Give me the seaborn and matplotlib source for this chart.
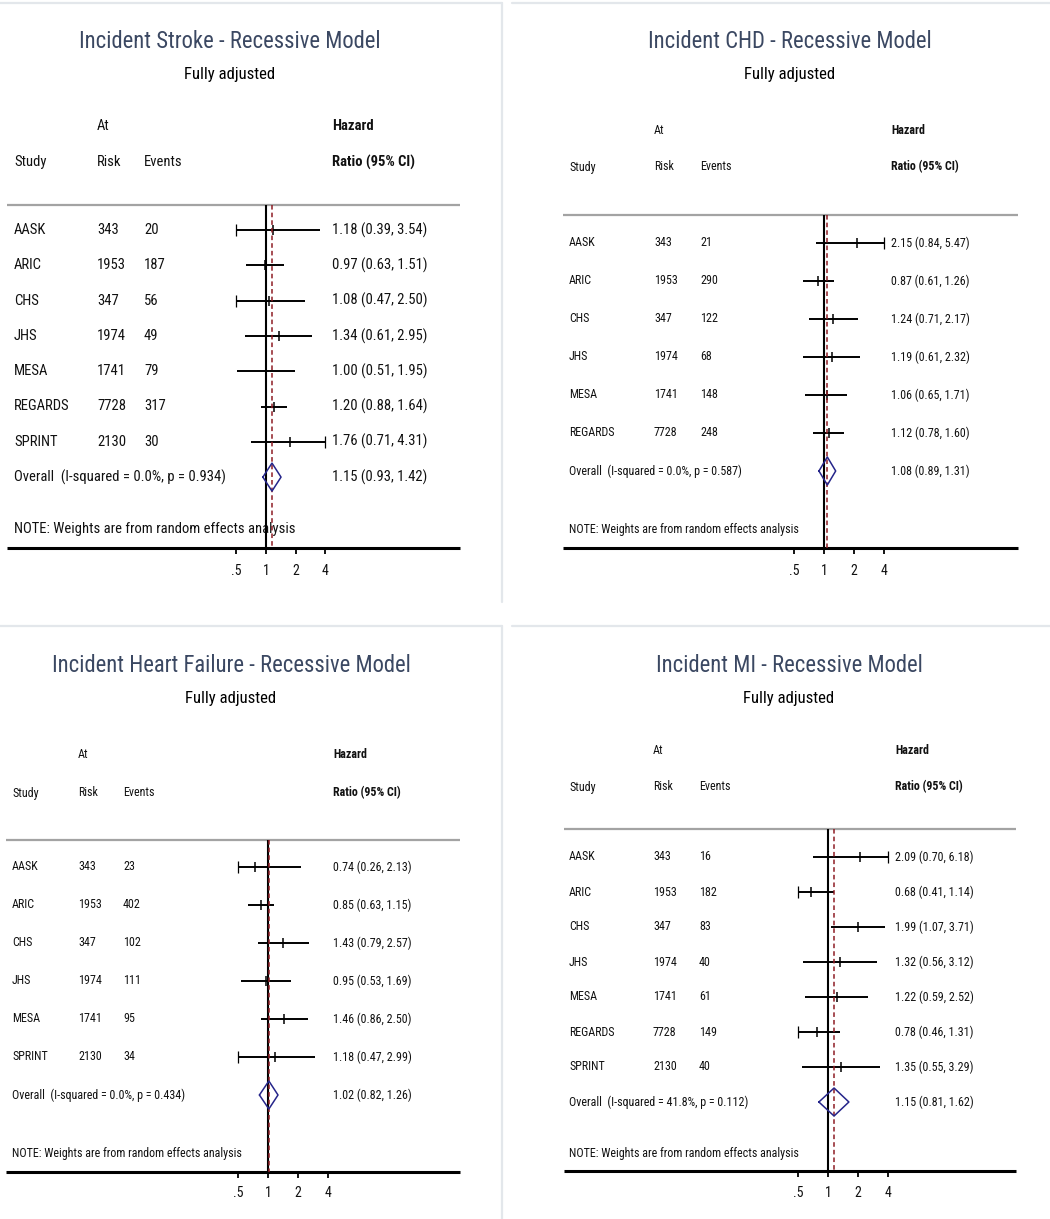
"""Four Stata-style forest plots (recessive model, fully adjusted) redrawn with seaborn/matplotlib."""
import numpy as np
import matplotlib
matplotlib.use("Agg")
import matplotlib.pyplot as plt
import seaborn as sns
from matplotlib import font_manager
from matplotlib.font_manager import FontProperties
from matplotlib.lines import Line2D
from matplotlib.textpath import TextPath

# Step 1: data
stroke_studies = ["AASK", "ARIC", "CHS", "JHS", "MESA", "REGARDS", "SPRINT"]
stroke_risk = [343, 1953, 347, 1974, 1741, 7728, 2130]
stroke_events = [20, 187, 56, 49, 79, 317, 30]
stroke_hr = [1.18, 0.97, 1.08, 1.34, 1.00, 1.20, 1.76]
stroke_lo = [0.39, 0.63, 0.47, 0.61, 0.51, 0.88, 0.71]
stroke_hi = [3.54, 1.51, 2.50, 2.95, 1.95, 1.64, 4.31]
stroke_overall = [1.15, 0.93, 1.42]
stroke_i2, stroke_p = 0.0, 0.934

chd_studies = ["AASK", "ARIC", "CHS", "JHS", "MESA", "REGARDS"]
chd_risk = [343, 1953, 347, 1974, 1741, 7728]
chd_events = [21, 290, 122, 68, 148, 248]
chd_hr = [2.15, 0.87, 1.24, 1.19, 1.06, 1.12]
chd_lo = [0.84, 0.61, 0.71, 0.61, 0.65, 0.78]
chd_hi = [5.47, 1.26, 2.17, 2.32, 1.71, 1.60]
chd_overall = [1.08, 0.89, 1.31]
chd_i2, chd_p = 0.0, 0.587

hf_studies = ["AASK", "ARIC", "CHS", "JHS", "MESA", "SPRINT"]
hf_risk = [343, 1953, 347, 1974, 1741, 2130]
hf_events = [23, 402, 102, 111, 95, 34]
hf_hr = [0.74, 0.85, 1.43, 0.95, 1.46, 1.18]
hf_lo = [0.26, 0.63, 0.79, 0.53, 0.86, 0.47]
hf_hi = [2.13, 1.15, 2.57, 1.69, 2.50, 2.99]
hf_overall = [1.02, 0.82, 1.26]
hf_i2, hf_p = 0.0, 0.434

mi_studies = ["AASK", "ARIC", "CHS", "JHS", "MESA", "REGARDS", "SPRINT"]
mi_risk = [343, 1953, 347, 1974, 1741, 7728, 2130]
mi_events = [16, 182, 83, 40, 61, 149, 40]
mi_hr = [2.09, 0.68, 1.99, 1.32, 1.22, 0.78, 1.35]
mi_lo = [0.70, 0.41, 1.07, 0.56, 0.59, 0.46, 0.55]
mi_hi = [6.18, 1.14, 3.71, 3.12, 2.52, 1.31, 3.29]
mi_overall = [1.15, 0.81, 1.62]
mi_i2, mi_p = 41.8, 0.112

titles = ["Incident Stroke - Recessive Model", "Incident CHD - Recessive Model",
          "Incident Heart Failure - Recessive Model", "Incident MI - Recessive Model"]
subtitle = "Fully adjusted"
tick_values = [0.5, 1, 2, 4]
tick_labels = [".5", "1", "2", "4"]
note = "NOTE: Weights are from random effects analysis"

# Step 2: style - the original uses a narrow font, so take a condensed face if one is installed
sns.set_theme(style="white")
family, stretch = "Liberation Sans", "normal"
for name in ["Liberation Sans Narrow", "Roboto Condensed", "Noto Sans Condensed", "Open Sans Condensed",
             "Noto Sans", "DejaVu Sans", "Open Sans", "Roboto", "Inter"]:
    hits = [f for f in font_manager.fontManager.ttflist
            if f.name == name and f.style == "normal"
            and ("Narrow" in name or "Condensed" in name or f.stretch in ("condensed", "semi-condensed"))]
    if hits:
        family, stretch = name, hits[0].stretch
        break
plt.rcParams["font.family"] = [family, "DejaVu Sans"]
plt.rcParams["font.stretch"] = stretch
fp = FontProperties(family=family, stretch=stretch)


def fit_size(text, width_px):
    # font size (pt) that gives the text the ink width it has in the original
    w = TextPath((0, 0), text, size=10, prop=fp).get_extents().width
    return 10 * width_px * 0.72 / w


body_big = fit_size("1.18 (0.39, 3.54)", 93)
body_small = fit_size("2.15 (0.84, 5.47)", 73) * 1.05
title_fs = fit_size(titles[0], 298)
sub_fs = fit_size(subtitle, 89)

W, H = 1050, 1219
fig = plt.figure(figsize=(W / 100, H / 100), dpi=100)
fig.patch.set_facecolor("white")

# pixel layout of each panel (box = left, top, right, bottom)
layouts = [
    dict(box=(0, 3, 502, 602), x1=266, u=29.7, row0=230, step=35.3, title_x=230, title_y=42, sub_y=75,
         at_y=126, study_y=162, sep_y=205, note_y=529, axis_y=548, tick_y=571,
         cols=(14, 97, 144, 332), line_x=(7, 460), fs=body_big),
    dict(box=(525, 3, 1050, 602), x1=824, u=30, row0=243, step=38, title_x=790, title_y=42, sub_y=75,
         at_y=131, study_y=167, sep_y=215, note_y=530, axis_y=548, tick_y=571,
         cols=(569, 654, 700, 891), line_x=(563, 1018), fs=body_small),
    dict(box=(0, 626, 502, 1219), x1=268, u=30, row0=867, step=38, title_x=231, title_y=666, sub_y=699,
         at_y=754, study_y=793, sep_y=840, note_y=1153, axis_y=1172, tick_y=1193,
         cols=(12, 78, 123, 333), line_x=(6, 460), fs=body_small),
    dict(box=(525, 626, 1050, 1219), x1=828, u=30, row0=857, step=35, title_x=789, title_y=666, sub_y=699,
         at_y=751, study_y=787, sep_y=829, note_y=1153, axis_y=1171, tick_y=1193,
         cols=(569, 653, 699, 895), line_x=(564, 1016), fs=body_small),
]

panels = [
    (stroke_studies, stroke_risk, stroke_events, stroke_hr, stroke_lo, stroke_hi, stroke_overall, stroke_i2, stroke_p),
    (chd_studies, chd_risk, chd_events, chd_hr, chd_lo, chd_hi, chd_overall, chd_i2, chd_p),
    (hf_studies, hf_risk, hf_events, hf_hr, hf_lo, hf_hi, hf_overall, hf_i2, hf_p),
    (mi_studies, mi_risk, mi_events, mi_hr, mi_lo, mi_hi, mi_overall, mi_i2, mi_p),
]

title_color = "#3b4862"
diamond_color = "#25258a"
dash_color = "#8e1c24"
text_color = "#111111"
clip_lo, clip_hi = tick_values[0], tick_values[-1]

# Step 3: draw each forest plot
for L, title, (studies, risk, events, hr, lo, hi, overall, i2, p) in zip(layouts, titles, panels):
    left, top, right, bottom = L["box"]
    ax = fig.add_axes([left / W, 1 - bottom / H, (right - left) / W, (bottom - top) / H])
    ax.set_xscale("log", base=2)
    hx = lambda px, L=L: 2 ** ((px - L["x1"]) / L["u"])
    vy = lambda py, L=L: (py - L["row0"]) / L["step"]
    ax.set_xlim(hx(left), hx(right))
    ax.set_ylim(vy(bottom), vy(top))
    ax.axis("off")

    fs = L["fs"]
    kw = dict(va="center", fontsize=fs, color=text_color)
    c_study, c_risk, c_events, c_ratio = [hx(c) for c in L["cols"]]
    rows = np.arange(len(studies))

    # titles
    ax.text(hx(L["title_x"]), vy(L["title_y"]), title, ha="center", va="center",
            fontsize=title_fs, color=title_color)
    ax.text(hx(L["title_x"]), vy(L["sub_y"]), subtitle, ha="center", va="center",
            fontsize=sub_fs, color="black")

    # column headers
    ax.text(c_risk, vy(L["at_y"]), "At", **kw)
    ax.text(c_ratio, vy(L["at_y"]), "Hazard", fontweight="bold", **kw)
    ax.text(c_study, vy(L["study_y"]), "Study", **kw)
    ax.text(c_risk, vy(L["study_y"]), "Risk", **kw)
    ax.text(c_events, vy(L["study_y"]), "Events", **kw)
    ax.text(c_ratio, vy(L["study_y"]), "Ratio (95% CI)", fontweight="bold", **kw)

    # study rows
    for r, s, n, e, h, a, b in zip(rows, studies, risk, events, hr, lo, hi):
        ax.text(c_study, r, s, **kw)
        ax.text(c_risk, r, str(n), **kw)
        ax.text(c_events, r, str(e), **kw)
        ax.text(c_ratio, r, f"{h:.2f} ({a:.2f}, {b:.2f})", **kw)

    lo_c = np.clip(lo, clip_lo, clip_hi)
    hi_c = np.clip(hi, clip_lo, clip_hi)
    ax.hlines(rows, lo_c, hi_c, color="black", lw=1.4)
    sns.scatterplot(x=hr, y=rows, marker="|", s=50, color="black", linewidth=1.1, ax=ax, legend=False)
    clipped_x = [clip_lo for a in lo if a < clip_lo] + [clip_hi for b in hi if b > clip_hi]
    clipped_y = [r for r, a in zip(rows, lo) if a < clip_lo] + [r for r, b in zip(rows, hi) if b > clip_hi]
    ax.plot(clipped_x, clipped_y, ls="none", marker="|", ms=8, mew=0.9, color="black")

    # overall diamond
    est, dlo, dhi = overall
    r_all = len(studies)
    dh = 14 / L["step"]
    ax.plot([dlo, est, dhi, est, dlo], [r_all, r_all - dh, r_all, r_all + dh, r_all],
            color=diamond_color, lw=1.1, zorder=5)
    ax.text(c_study, r_all, f"Overall  (I-squared = {i2:.1f}%, p = {p:.3f})", **kw)
    ax.text(c_ratio, r_all, f"{est:.2f} ({dlo:.2f}, {dhi:.2f})", **kw)
    ax.text(c_study, vy(L["note_y"]), note, **kw)

    # reference lines
    ax.vlines(1, vy(L["sep_y"]), vy(L["axis_y"]), color="black", lw=1.5, zorder=3)
    ax.vlines(est, vy(L["sep_y"]), vy(L["axis_y"]), color=dash_color, lw=1.1,
              linestyles=(0, (3, 2)), zorder=4)

    # separator, axis line and ticks
    ax.hlines(vy(L["sep_y"]), hx(L["line_x"][0]), hx(L["line_x"][1]), color="#a3a3a3", lw=1.6)
    ax.hlines(vy(L["axis_y"]), hx(L["line_x"][0]), hx(L["line_x"][1]), color="black", lw=2.2)
    ax.vlines(tick_values, vy(L["axis_y"]), vy(L["axis_y"] + 6), color="black", lw=1.3)
    for t, lab in zip(tick_values, tick_labels):
        ax.text(t, vy(L["tick_y"]), lab, ha="center", va="center", fontsize=body_big * 0.95,
                color=text_color)

# Step 4: faint panel borders
border = "#e3e7eb"
for x0, y0, x1, y1 in [(0, 3, 502, 3), (502, 3, 502, 602), (512, 3, 1050, 3),
                       (0, 626, 502, 626), (502, 626, 502, 1219), (512, 626, 1050, 626)]:
    fig.add_artist(Line2D([x0 / W, x1 / W], [1 - y0 / H, 1 - y1 / H], color=border, lw=1.6))

plt.savefig("out.png", dpi=100, facecolor="white")
